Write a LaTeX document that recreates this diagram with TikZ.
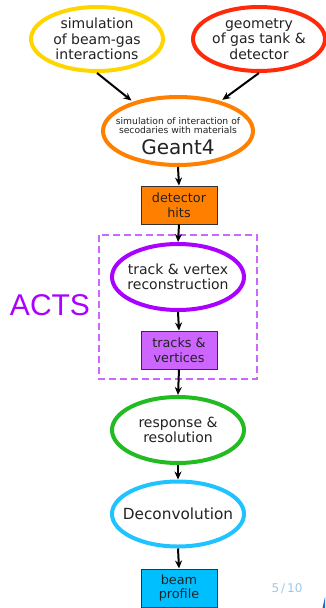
\documentclass[tikz,border=0pt]{standalone}
\usepackage{fontspec}
\setmainfont{DejaVu Sans}
\newfontfamily\actsfont{Liberation Sans}
\usetikzlibrary{shapes.geometric,arrows.meta}
\definecolor{cyellow}{HTML}{FFD500}
\definecolor{cred}{HTML}{FF2A0A}
\definecolor{corange}{HTML}{FF8000}
\definecolor{cpurple}{HTML}{AA00FF}
\definecolor{clpurple}{HTML}{CC66FF}
\definecolor{cgreen}{HTML}{22BB22}
\definecolor{ccyan}{HTML}{1EC3FF}
\definecolor{cboxblue}{HTML}{00BFFF}
\definecolor{cpage}{HTML}{9CC8E6}
\definecolor{ctext}{HTML}{222222}
\definecolor{cmark}{HTML}{1F6FB8}
\tikzset{
  ell/.style={ellipse, line width=4pt, fill=white, inner sep=0pt},
  ellt/.style={align=center, text=ctext, inner sep=0pt, font=\fontsize{14}{15.5}\selectfont},
  boxnode/.style={rectangle, draw=black!80, line width=1pt, minimum width=76pt, minimum height=38pt, inner sep=0pt, align=center, text=ctext, font=\fontsize{12.8}{14.5}\selectfont},
  arr/.style={-{Stealth[length=8pt,width=7pt]}, line width=2pt, black}
}
\begin{document}
\begin{tikzpicture}[x=1pt,y=-1pt]
\useasboundingbox (0,0) rectangle (325,608);
\node[ell, draw=cyellow, minimum width=132pt, minimum height=64pt] (sim) at (97,39) {};
\node[ellt] (simt) at (sim.center) {simulation\\of beam-gas\\interactions};
\node[ell, draw=cred, minimum width=132pt, minimum height=64pt] (geo) at (259,39) {};
\node[ellt] (geot) at (geo.center) {geometry\\of gas tank \&\\detector};
\node[ell, draw=corange, minimum width=150pt, minimum height=68pt] (geant) at (178,131) {};
\node[font=\fontsize{9.2}{9.5}\selectfont, text=ctext, align=center] (geantsmall) at (178,125.5) {simulation of interaction of\\secodaries with materials};
\node[font=\fontsize{20}{22}\selectfont, text=ctext] (geantbig) at (178,147) {Geant4};
\node[boxnode, fill=corange] (hits) at (179,205) {detector\\hits};
\draw[clpurple, line width=2pt, dash pattern=on 7pt off 4pt] (99,235) rectangle (257,379);
\node[font=\actsfont\fontsize{30}{34}\selectfont, text=cpurple] (acts) at (50,305) {ACTS};
\node[ell, draw=cpurple, minimum width=132pt, minimum height=66pt] (track) at (178,277) {};
\node[ellt] (trackt) at (track.center) {track \& vertex\\reconstruction};
\node[boxnode, fill=clpurple] (tracks) at (179,350) {tracks \&\\vertices};
\node[ell, draw=cgreen, minimum width=132pt, minimum height=66pt] (resp) at (178,430) {};
\node[ellt] (respt) at (resp.center) {response \&\\resolution};
\node[ell, draw=ccyan, minimum width=132pt, minimum height=65pt] (deconv) at (178,514) {};
\node[ellt, font=\fontsize{15.3}{16}\selectfont] (deconvt) at (deconv.center) {Deconvolution};
\node[boxnode, fill=cboxblue] (beam) at (179,588) {beam\\profile};
\node[font=\fontsize{12}{13}\selectfont, text=cpage] (page) at (287,589) {5\,/\,10};
\fill[cmark] (322.5,608) -- (325,597) -- (325,608) -- cycle;
\draw[arr, shorten >=2pt] (sim.south) -- (geant.147);
\draw[arr, shorten >=2pt] (geo.south) -- (geant.35);
\draw[arr] (geant.south) -- (hits.north);
\draw[arr] (hits.south) -- (track.north);
\draw[arr] (track.south) -- (tracks.north);
\draw[arr] (tracks.south) -- (resp.north);
\draw[arr] (resp.south) -- (deconv.north);
\draw[arr] (deconv.south) -- (beam.north);
\end{tikzpicture}
\end{document}
